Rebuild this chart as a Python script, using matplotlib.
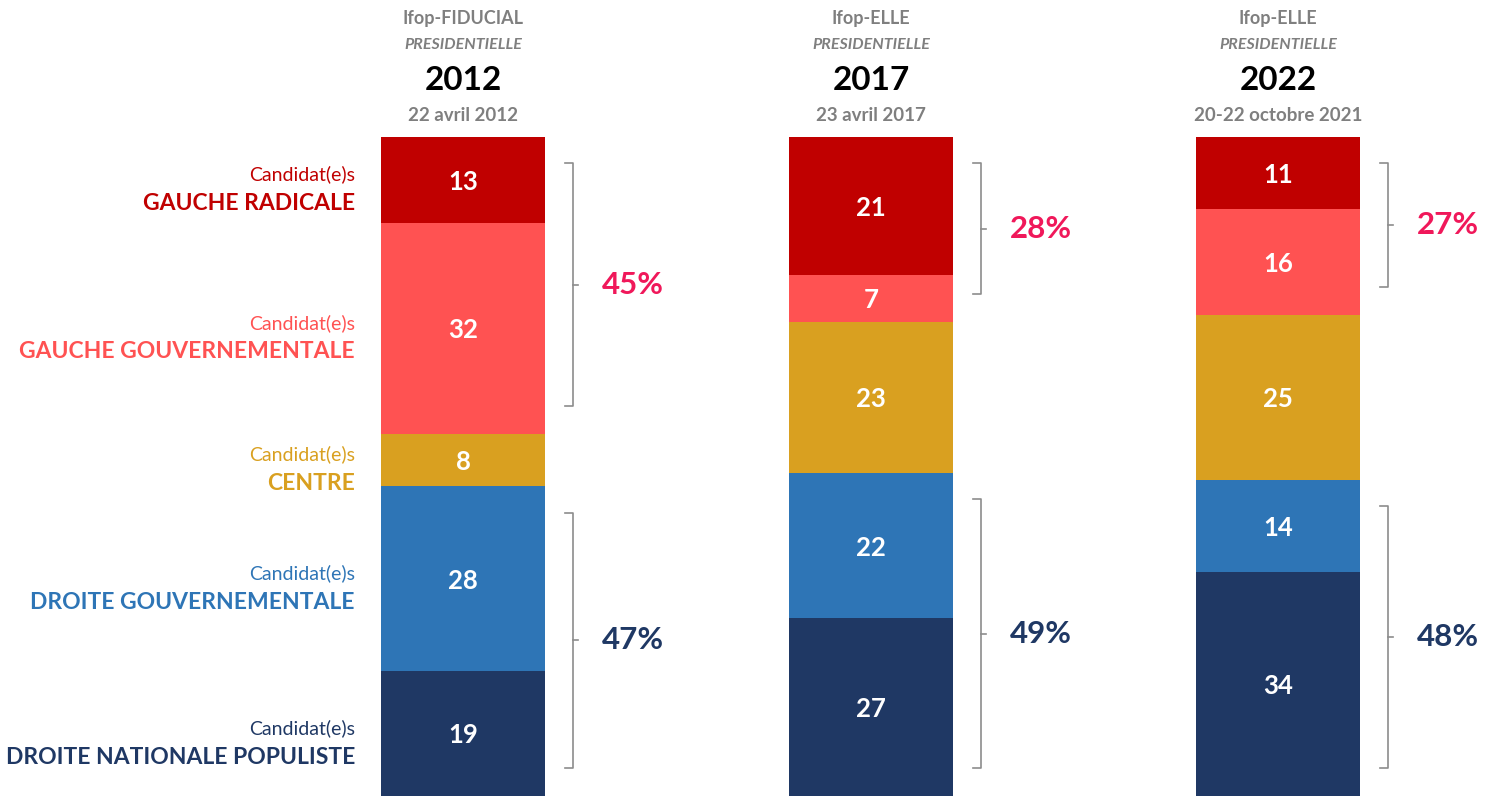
import numpy as np
import matplotlib.pyplot as plt

plt.rcParams['font.family'] = ['Lato', 'DejaVu Sans']

# data
years = ['2012', '2017', '2022']
sources = ['Ifop-FIDUCIAL', 'Ifop-ELLE', 'Ifop-ELLE']
dates = ['22 avril 2012', '23 avril 2017', '20-22 octobre 2021']
categories = ['GAUCHE RADICALE', 'GAUCHE GOUVERNEMENTALE', 'CENTRE',
              'DROITE GOUVERNEMENTALE', 'DROITE NATIONALE POPULISTE']
values = {
    '2012': [13, 32, 8, 28, 19],
    '2017': [21, 7, 23, 22, 27],
    '2022': [11, 16, 25, 14, 34],
}
left_totals = [45, 28, 27]
right_totals = [47, 49, 48]

colors = ['#C00000', '#FF5252', '#D9A020', '#2E75B6', '#1F3864']
pink = '#F0185A'
navy = '#1F3864'
grey = '#7F7F7F'

fig = plt.figure(figsize=(14.85, 7.96), dpi=100)
ax = fig.add_axes([0, 0, 1, 659 / 796])
ax.set_xlim(0, 1485)
ax.set_ylim(100, 0)
ax.axis('off')

xc = [463, 871, 1278]
bw = 164

for i, yr in enumerate(years):
    vals = values[yr]
    bottoms = np.concatenate([[0], np.cumsum(vals)[:-1]])
    ax.bar(xc[i], vals, bottom=bottoms, width=bw, color=colors, linewidth=0)
    for v, b in zip(vals, bottoms):
        ax.text(xc[i], b + v / 2 + 0.3, str(v), ha='center', va='center',
                color='white', fontsize=18.5, fontweight='bold')

    # headers
    ax.text(xc[i], -18.0, sources[i], ha='center', va='center', color=grey,
            fontsize=13, fontweight='bold', clip_on=False)
    ax.text(xc[i], -13.9, 'PRESIDENTIELLE', ha='center', va='center', color=grey,
            fontsize=11.5, fontweight='bold', style='italic', clip_on=False)
    ax.text(xc[i], -8.6, yr, ha='center', va='center', color='black',
            fontsize=24, fontweight='bold', clip_on=False)
    ax.text(xc[i], -3.3, dates[i], ha='center', va='center', color=grey,
            fontsize=13.5, fontweight='bold', clip_on=False)

    # brackets
    bx = xc[i] + bw / 2 + 28
    groups = [(0, sum(vals[:2]), left_totals[i], pink),
              (sum(vals[:3]), 100, right_totals[i], navy)]
    for g0, g1, tot, col in groups:
        y0, y1 = g0 + 4.0, g1 - 4.2
        ym = (y0 + y1) / 2
        ax.plot([bx - 8, bx, bx, bx - 8], [y0, y0, y1, y1], color='#8C8C8C', lw=1.2)
        ax.plot([bx, bx + 5], [ym, ym], color='#8C8C8C', lw=1.2)
        ax.text(bx + 60, ym, f'{tot}%', ha='center', va='center', color=col,
                fontsize=22.5, fontweight='bold')

# category labels on the left
vals = values['2012']
bottoms = np.concatenate([[0], np.cumsum(vals)[:-1]])
for cat, v, b, col in zip(categories, vals, bottoms, colors):
    mid = b + v / 2
    ax.text(355, mid - 0.8, 'Candidat(e)s', ha='right', va='center', color=col,
            fontsize=14)
    ax.text(355, mid + 3.6, cat, ha='right', va='center', color=col,
            fontsize=16.5, fontweight='bold')

fig.savefig('out.png', dpi=100)
